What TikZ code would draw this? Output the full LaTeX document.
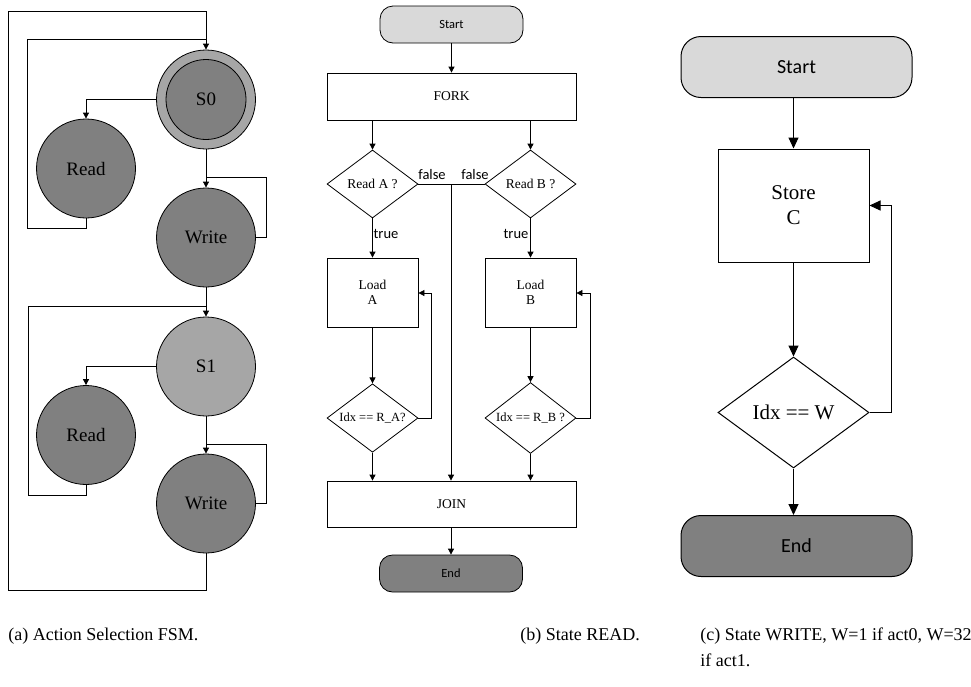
\documentclass[tikz,border=0pt]{standalone}
\usepackage{fontspec}
\setmainfont{Liberation Serif}
\newfontfamily\sansf{Carlito}
\usetikzlibrary{arrows.meta,shapes.geometric}

\definecolor{darkfill}{HTML}{808080}
\definecolor{lightfill}{HTML}{A6A6A6}
\definecolor{startfill}{HTML}{D9D9D9}

\tikzset{
  every path/.style={line width=0.8pt},
  arr/.style={-{Triangle[length=6pt,width=6pt]}},
  bigarr/.style={-{Triangle[length=11pt,width=10pt]}, line width=1pt},
  state/.style={circle, draw, inner sep=0pt, minimum size=99pt,
    font=\fontsize{19}{23}\selectfont},
  darkstate/.style={state, fill=darkfill},
  procbox/.style={rectangle, draw, inner sep=0pt, align=center,
    font=\fontsize{13.5}{15.5}\selectfont},
  decision/.style={diamond, draw, inner sep=0pt,
    font=\fontsize{13.5}{15.5}\selectfont},
  testdecision/.style={decision, inner xsep=-4pt,
    font=\fontsize{12.5}{15}\selectfont},
  terminal/.style={rectangle, draw, inner sep=0pt, rounded corners=13pt,
    minimum width=143pt, minimum height=37pt, font=\sansf\fontsize{12.5}{14}\selectfont},
  bigbox/.style={rectangle, draw, line width=1pt, inner sep=0pt, align=center,
    font=\fontsize{21}{25}\selectfont},
  bigterminal/.style={rectangle, draw, line width=1pt, inner sep=0pt, rounded corners=20pt,
    minimum width=231pt, minimum height=61pt, font=\sansf\fontsize{20}{24}\selectfont},
  edgelabel/.style={inner sep=0pt, font=\sansf\fontsize{14.5}{17}\selectfont},
  caption/.style={inner sep=0pt, anchor=base west,
    font=\fontsize{18}{26}\selectfont}
}

\begin{document}
\begin{tikzpicture}[x=1pt,y=-1pt]
\useasboundingbox (0,0) rectangle (971,686);

% ---------------- (a) action selection FSM ----------------
\node[state, fill=lightfill] (s0) at (206,99.5) {};
\node[darkstate, minimum size=80pt] (s0in) at (206,99.5) {S0};
\node[darkstate] (r1) at (86,168.5) {Read};
\node[darkstate] (w1) at (206,237.5) {Write};
\node[state, fill=lightfill] (s1) at (206,366.5) {S1};
\node[darkstate] (r2) at (86,435) {Read};
\node[darkstate] (w2) at (206,503.5) {Write};

\coordinate (outbot) at (8,590);
\coordinate (outtop) at (206,11);
\coordinate (loopa) at (27,228);
\coordinate (joina) at (206,39);
\coordinate (loopb) at (28,495);
\coordinate (joinb) at (206,306);
\coordinate (selfa) at (266,237.5);
\coordinate (selfaj) at (206,177);
\coordinate (selfb) at (266,503.5);
\coordinate (selfbj) at (206,444);

\draw[arr] (w2.south) |- (outbot) |- (outtop) -- (s0.north);
\draw (r1.south) |- (loopa) |- (joina);
\draw[arr] (s0.west) -| (r1.north);
\draw[arr] (s0.south) -- (w1.north);
\draw (w1.east) -- (selfa) |- (selfaj);
\draw[arr] (w1.south) -- (s1.north);
\draw (r2.south) |- (loopb) |- (joinb);
\draw[arr] (s1.west) -| (r2.north);
\draw[arr] (s1.south) -- (w2.north);
\draw (w2.east) -- (selfb) |- (selfbj);

% ---------------- (b) state READ ----------------
\node[terminal, fill=startfill] (bstart) at (451.5,24.5) {Start};
\node[procbox, minimum width=249pt, minimum height=47pt] (fork) at (451.5,96.5) {FORK};
\node[decision, minimum width=91pt, minimum height=68pt] (rda) at (372.5,184) {Read A ?};
\node[decision, minimum width=91pt, minimum height=68pt] (rdb) at (530.5,184) {Read B ?};
\node[procbox, minimum width=91pt, minimum height=69pt] (lda) at (372.5,292.5) {Load\\A};
\node[procbox, minimum width=91pt, minimum height=69pt] (ldb) at (530.5,292.5) {Load\\B};
\node[testdecision, minimum width=91pt, minimum height=68pt] (ida) at (372.5,418) {Idx == R\_A?};
\node[testdecision, minimum width=91pt, minimum height=68pt] (idb) at (530.5,418) {Idx == R\_B ?};
\node[procbox, minimum width=249pt, minimum height=46pt] (join) at (451.5,504) {JOIN};
\node[terminal, fill=darkfill] (bend) at (451,573.5) {End};

\coordinate (falsej) at (451,184);
\coordinate (fba) at (431,418);
\coordinate (fbb) at (590,418);

\draw[arr] (bstart.south) -- (fork.north);
\draw[arr] (fork.south -| rda.north) -- (rda.north);
\draw[arr] (fork.south -| rdb.north) -- (rdb.north);
\draw (rda.east) -- (rdb.west);
\draw[arr] (falsej) -- (falsej |- join.north);
\node[edgelabel] (fa) at (432,175) {false};
\node[edgelabel] (fb) at (475,175) {false};
\draw[arr] (rda.south) -- (lda.north);
\draw[arr] (rdb.south) -- (ldb.north);
\node[edgelabel] (ta) at (386,234) {true};
\node[edgelabel] (tb) at (516,234) {true};
\draw[arr] (lda.south) -- (ida.north);
\draw[arr] (ldb.south) -- (idb.north);
\draw[arr] (ida.east) -- (fba) |- (lda.east |- 0,293);
\draw[arr] (idb.east) -- (fbb) |- (ldb.east |- 0,293);
\draw[arr] (ida.south) -- (join.north -| ida.south);
\draw[arr] (idb.south) -- (join.north -| idb.south);
\draw[arr] (join.south -| bend.north) -- (bend.north);

% ---------------- (c) state WRITE ----------------
\node[bigterminal, fill=startfill] (cstart) at (796.5,67) {Start};
\node[bigbox, minimum width=151pt, minimum height=113pt] (store) at (793.5,205.5) {Store\\C};
\node[decision, line width=1pt, minimum width=151pt, minimum height=111pt,
  font=\fontsize{21}{25}\selectfont] (idw) at (793.5,412.5) {Idx == W};
\node[bigterminal, fill=darkfill] (cend) at (796.5,546) {End};

\coordinate (fbc) at (891,412.5);

\draw[bigarr] (cstart.south -| store.north) -- (store.north);
\draw[bigarr] (store.south) -- (idw.north);
\draw[bigarr] (idw.east) -- (fbc) |- (store.east);
\draw[bigarr] (idw.south) -- (idw.south |- cend.north);

% ---------------- captions ----------------
\node[caption] (capa) at (8,640) {(a) Action Selection FSM.};
\node[caption] (capb) at (520,640) {(b) State READ.};
\node[caption] (capc) at (700,640) {(c) State WRITE, W=1 if act0, W=32};
\node[caption] (capc2) at (700,666) {if act1.};

\end{tikzpicture}
\end{document}
